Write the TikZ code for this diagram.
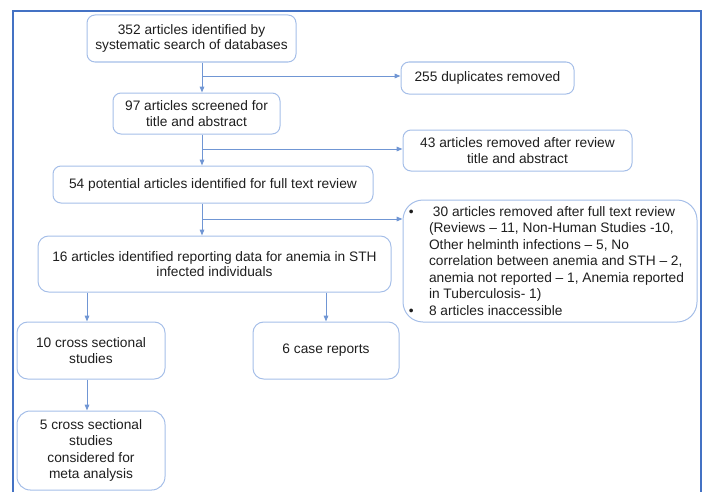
\documentclass[tikz,border=0pt]{standalone}
\usepackage{fontspec}
\setmainfont{Liberation Sans}
\usetikzlibrary{arrows.meta}

\definecolor{framecol}{RGB}{68,114,196}
\definecolor{boxcol}{RGB}{165,190,232}
\definecolor{linecol}{RGB}{112,150,212}
\definecolor{txtcol}{RGB}{30,30,30}

% one line of the long side box, left aligned in a fixed width
\newcommand{\sideline}[1]{\makebox[181.5pt][l]{#1}}
\newcommand{\sidebullet}{\llap{\textbullet\hspace{11.5pt}}}

\begin{document}
\begin{tikzpicture}[x=0.75pt, y=-0.75pt,  % units of px, y runs down
    box/.style={draw=boxcol, line width=0.75pt, rounded corners=6pt, align=center,
        text=txtcol, inner sep=0pt, font=\fontsize{10.3}{11.6}\selectfont},
    boxsize/.style 2 args={minimum width=#1*0.75pt, minimum height=#2*0.75pt},
    widelines/.style={font=\fontsize{10.3}{12.4}\selectfont},
    flow/.style={draw=linecol, line width=0.75pt, -{Triangle[length=4.5pt,width=3.5pt]}}]
    \useasboundingbox (0,0) rectangle (705,492);
    % outer frame, open at the bottom
    \draw[framecol, line width=1.2pt] (13,492) -- (13,11) -- (701,11) -- (701,492);

    % main column
    \node[box, boxsize={209}{47}] (b352) at (191.5,38.5) {352 articles identified by\\systematic search of databases};
    \node[box, boxsize={167}{41}] (b97) at (196.5,113.5) {97 articles screened for\\title and abstract};
    \node[box, boxsize={320}{37}] (b54) at (213,184.5) {54 potential articles identified for full text review};
    \node[box, boxsize={353}{56}, rounded corners=8pt] (b16) at (214.5,264) {16 articles identified reporting data for anemia in STH\\infected individuals};
    \node[box, widelines, boxsize={148}{57}, rounded corners=8pt] (b10) at (91,350.5) {10 cross sectional\\studies};
    \node[box, boxsize={146}{57}, rounded corners=8pt] (b6) at (326,350.5) {6 case reports};
    \node[box, widelines, boxsize={148}{79}, rounded corners=10pt] (b5) at (91,450.5) {5 cross sectional\\studies\\considered for\\meta analysis};

    % removed records
    \node[box, boxsize={173}{32}] (b255) at (487.5,78) {255 duplicates removed};
    \node[box, boxsize={229}{41}] (b43) at (517.5,150.5) {43 articles removed after review\\title and abstract};
    \node[box, widelines, boxsize={294}{122}, rounded corners=15pt, align=left] (b30) at (550,261)
        {\sideline{\sidebullet\hspace{3pt}30 articles removed after full text review}\\
        \sideline{(Reviews – 11, Non-Human Studies -10,}\\
        \sideline{Other helminth infections – 5, No}\\
        \sideline{correlation between anemia and STH – 2,}\\
        \sideline{anemia not reported – 1, Anemia reported}\\
        \sideline{in Tuberculosis- 1)}\\
        \sideline{\sidebullet 8 articles inaccessible}};

    % connectors
    \coordinate (spine) at (202,0);  % x of the main line
    \coordinate (j1) at (202,76);
    \coordinate (j2) at (202,149);
    \coordinate (j3) at (202,219);
    \coordinate (s10) at (87,0);
    \draw[flow] (b352.south -| spine) -- (b97.north -| spine);
    \draw[flow] (j1) -- (j1 -| b255.west);
    \draw[flow] (b97.south -| spine) -- (b54.north -| spine);
    \draw[flow] (j2) -- (j2 -| b43.west);
    \draw[flow] (b54.south -| spine) -- (b16.north -| spine);
    \draw[flow] (j3) -- (j3 -| b30.west);
    \draw[flow] (b16.south -| s10) -- (b10.north -| s10);
    \draw[flow] (b10.south -| s10) -- (b5.north -| s10);
    \draw[flow] (b16.south -| b6.north) -- (b6.north);
\end{tikzpicture}
\end{document}
